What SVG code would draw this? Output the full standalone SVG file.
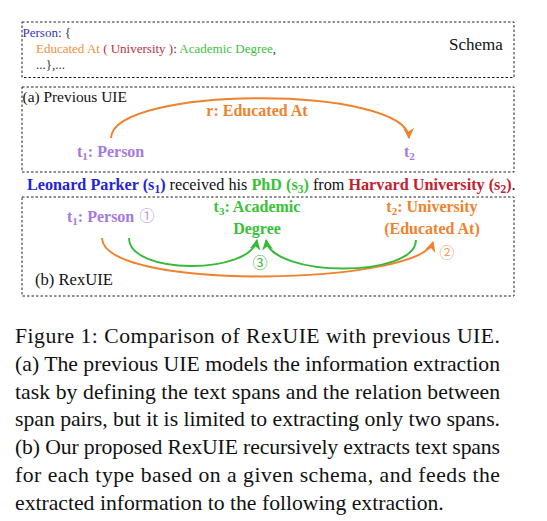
<svg xmlns="http://www.w3.org/2000/svg" width="547" height="521" viewBox="0 0 547 521">
<style>
text{font-family:"Liberation Serif","Times New Roman",serif;}
.box{fill:none;stroke:#222;stroke-width:1;stroke-dasharray:2.5 2;}
.b{font-weight:bold;}
.pur{fill:#a47ae2;}
.ora{fill:#f0822d;}
.grn{fill:#38c238;}
.blu{fill:#2424d4;}
.red{fill:#c3202e;}
.cap{font-size:21.7px;fill:#111;}
.circ{font-family:"Noto Sans CJK SC","DejaVu Sans",sans-serif;font-size:15px;}
.arcO{fill:none;stroke:#f0822d;stroke-width:2;}
.arcG{fill:none;stroke:#3ab83a;stroke-width:2;}
</style>
<defs>
<marker id="arrO" viewBox="0 0 10 10" refX="9" refY="5" markerWidth="11" markerHeight="11" markerUnits="userSpaceOnUse" orient="auto"><path d="M0,0 L10,5 L0,10 L3,5 z" fill="#f0822d"/></marker>
<marker id="arrG" viewBox="0 0 10 10" refX="9" refY="5" markerWidth="11" markerHeight="11" markerUnits="userSpaceOnUse" orient="auto"><path d="M0,0 L10,5 L0,10 L3,5 z" fill="#3ab83a"/></marker>
</defs>

<g id="schema">
<rect class="box" x="22" y="22" width="492" height="55.5"/>
<text x="22.5" y="37" font-size="13"><tspan fill="#3535c0">Person</tspan><tspan fill="#333">: {</tspan></text>
<text x="36" y="53" font-size="13"><tspan fill="#f0903c">Educated At</tspan><tspan fill="#c03040"> ( University )</tspan><tspan fill="#333">: </tspan><tspan fill="#40c040">Academic Degree</tspan><tspan fill="#333">,</tspan></text>
<text x="36" y="69" font-size="13" fill="#333">...},...</text>
<text x="449" y="50" font-size="17" fill="#111">Schema</text>
</g>

<g id="previous-uie">
<rect class="box" x="22" y="87" width="492" height="85"/>
<text x="22.5" y="101.5" font-size="15.4" fill="#111">(a) Previous UIE</text>
<text x="257" y="116" font-size="16" text-anchor="middle" class="b ora">r: Educated At</text>
<text x="77" y="157" font-size="16" class="b pur">t<tspan font-size="11" dy="3">1</tspan><tspan dy="-3">: Person</tspan></text>
<text x="404" y="157" font-size="16" class="b pur">t<tspan font-size="11" dy="3">2</tspan></text>
</g>

<g id="sentence">
<text x="27" y="190" font-size="16.2" fill="#111"><tspan class="b blu">Leonard Parker (s<tspan font-size="11.5" dy="3">1</tspan><tspan dy="-3">)</tspan></tspan> received his <tspan class="b grn">PhD (s<tspan font-size="11.5" dy="3">3</tspan><tspan dy="-3">)</tspan></tspan> from <tspan class="b red">Harvard University (s<tspan font-size="11.5" dy="3">2</tspan><tspan dy="-3">)</tspan></tspan>.</text>
</g>

<g id="rexuie">
<rect class="box" x="22" y="197" width="492" height="99"/>
<text x="35" y="285" font-size="16.6" fill="#111">(b) RexUIE</text>
<text x="67" y="222" font-size="16" class="b pur">t<tspan font-size="11" dy="3">1</tspan><tspan dy="-3">: Person</tspan></text>
<text x="147" y="220.5" class="circ" fill="#b895ec" text-anchor="middle">①</text>
<text x="257" y="212" font-size="16" text-anchor="middle" class="b grn">t<tspan font-size="11" dy="3">3</tspan><tspan dy="-3">: Academic</tspan></text>
<text x="257" y="234" font-size="16" text-anchor="middle" class="b grn">Degree</text>
<text x="432" y="212" font-size="16" text-anchor="middle" class="b ora">t<tspan font-size="11" dy="3">2</tspan><tspan dy="-3">: University</tspan></text>
<text x="432" y="234" font-size="16" text-anchor="middle" class="b ora">(Educated At)</text>
<text x="260" y="267.5" class="circ" fill="#3ab83a" text-anchor="middle">③</text>
<text x="447" y="257.5" class="circ" fill="#f4a060" text-anchor="middle">②</text>
</g>

<g id="connectors">
<path class="arcO" d="M111,138 C113,85 407,85 409,138" marker-end="url(#arrO)"/>
<path class="arcO" d="M102,238 C104,292 420,285 433,242" marker-end="url(#arrO)"/>
<path class="arcG" d="M129,238 C129,275 250,275 257,240" marker-end="url(#arrG)"/>
<path class="arcG" d="M416,240 C416,278 272,278 266,240" marker-end="url(#arrG)"/>
</g>

<g id="caption" class="cap">
<text x="15" y="343" class="cap" textLength="485" lengthAdjust="spacing">Figure 1: Comparison of RexUIE with previous UIE.</text>
<text x="15" y="370.8" class="cap" textLength="485" lengthAdjust="spacing">(a) The previous UIE models the information extraction</text>
<text x="15" y="398.6" class="cap" textLength="485" lengthAdjust="spacing">task by defining the text spans and the relation between</text>
<text x="15" y="426.4" class="cap" textLength="485" lengthAdjust="spacing">span pairs, but it is limited to extracting only two spans.</text>
<text x="15" y="454.2" class="cap" textLength="485" lengthAdjust="spacing">(b) Our proposed RexUIE recursively extracts text spans</text>
<text x="15" y="482" class="cap" textLength="485" lengthAdjust="spacing">for each type based on a given schema, and feeds the</text>
<text x="15" y="509.8" class="cap">extracted information to the following extraction.</text>
</g>
</svg>
